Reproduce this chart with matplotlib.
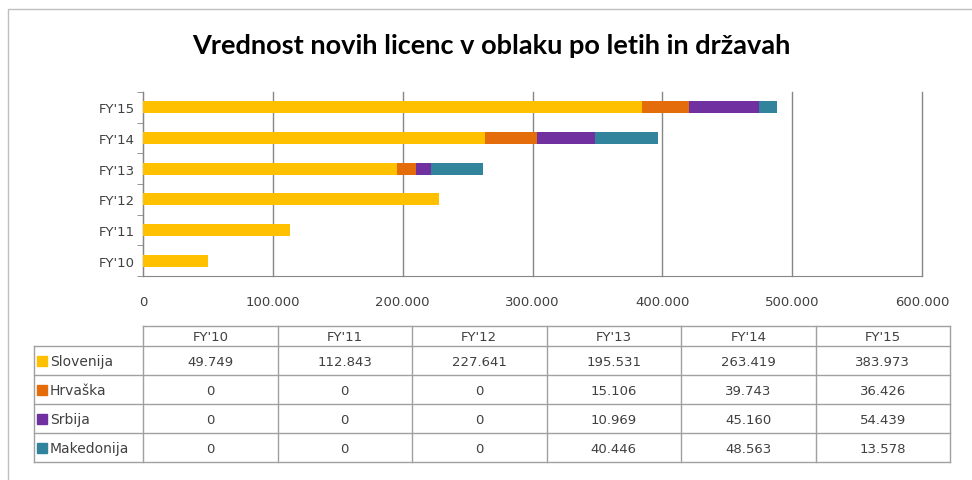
import matplotlib.pyplot as plt
from matplotlib.ticker import FuncFormatter, MultipleLocator

# podatki
leta = ["FY'10", "FY'11", "FY'12", "FY'13", "FY'14", "FY'15"]
drzave = ["Slovenija", "Hrvaška", "Srbija", "Makedonija"]
slovenija = [49749, 112843, 227641, 195531, 263419, 383973]
hrvaska = [0, 0, 0, 15106, 39743, 36426]
srbija = [0, 0, 0, 10969, 45160, 54439]
makedonija = [0, 0, 0, 40446, 48563, 13578]
barve = ["#FFC000", "#E46C0A", "#7030A0", "#31849B"]

serije = [slovenija, hrvaska, srbija, makedonija]
siva = "#868686"

def fmt(v, pos=None):
    return f"{int(v):,}".replace(",", ".")

W, H = 972, 481
fig = plt.figure(figsize=(W / 100, H / 100), dpi=100)
plt.rcParams['font.family'] = ['DejaVu Sans']

# graf
ax = fig.add_axes([143 / W, (H - 277) / H, (922 - 143) / W, (277 - 93) / H])
y = list(range(len(leta)))
levo = [0] * len(leta)
for s, b, ime in zip(serije, barve, drzave):
    ax.barh(y, s, left=levo, height=0.4, color=b, label=ime, zorder=3)
    levo = [a + c for a, c in zip(levo, s)]

ax.set_xlim(0, 600000)
ax.set_ylim(-0.5, len(leta) - 0.5)
ax.xaxis.set_major_locator(MultipleLocator(100000))
ax.xaxis.set_major_formatter(FuncFormatter(fmt))
ax.set_yticks(y)
ax.set_yticklabels(leta)
ax.set_yticks([i - 0.5 for i in range(len(leta) + 1)], minor=True)
ax.tick_params(axis='y', which='major', length=0, pad=6, labelsize=9.5, colors='#404040')
ax.tick_params(axis='y', which='minor', length=4, color=siva)
ax.tick_params(axis='x', length=0, pad=14, labelsize=9.5, colors='#404040')
ax.grid(axis='x', color=siva, linewidth=1, zorder=0)
for gl in ax.get_xgridlines():
    gl.set_clip_on(False)
for k in ['top', 'right']:
    ax.spines[k].set_visible(False)
for k in ['left', 'bottom']:
    ax.spines[k].set_color(siva)

# okvir, naslov in tabela
ov = fig.add_axes([0, 0, 1, 1])
ov.set_xlim(0, W)
ov.set_ylim(H, 0)
ov.axis('off')
ov.plot([8, 8, W + 5], [H + 5, 10, 10], color='#bfbfbf', lw=1)
ov.text(491, 46, "Vrednost novih licenc v oblaku po letih in državah",
        ha='center', va='center', fontsize=19.5, fontweight='bold', family='Lato')

x0, x1, cw = 34, 143, 134.5
y0, hh, rh = 327, 20, 29
xe = [x1 + i * cw for i in range(len(leta) + 1)]
ye = [y0 + hh + i * rh for i in range(len(drzave) + 1)]
lc = '#a0a0a0'
# vodoravne črte
ov.plot([x1, xe[-1]], [y0, y0], color=lc, lw=1)
for yy in ye:
    ov.plot([x0, xe[-1]], [yy, yy], color=lc, lw=1)
# navpične črte
ov.plot([x0, x0], [ye[0], ye[-1]], color=lc, lw=1)
for xx in xe:
    ov.plot([xx, xx], [y0, ye[-1]], color=lc, lw=1)

for j, l in enumerate(leta):
    ov.text((xe[j] + xe[j + 1]) / 2, y0 + hh / 2 + 1, l, ha='center', va='center',
            fontsize=9.5, color='#404040')
for i, (ime, s, b) in enumerate(zip(drzave, serije, barve)):
    yc = (ye[i] + ye[i + 1]) / 2
    ov.plot(x0 + 8, yc, marker='s', ms=6.5, color=b, mec=b)
    ov.text(x0 + 16, yc + 1, ime, ha='left', va='center', fontsize=10, color='#404040')
    for j, v in enumerate(s):
        ov.text((xe[j] + xe[j + 1]) / 2, yc + 1, fmt(v), ha='center', va='center',
                fontsize=9.5, color='#404040')

fig.savefig('out.png', dpi=100)
